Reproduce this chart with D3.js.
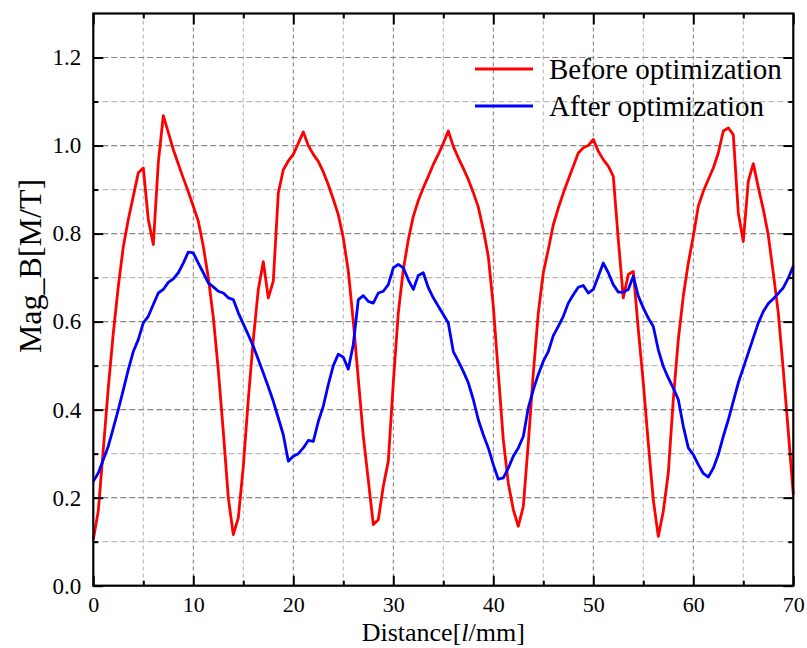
<!DOCTYPE html>
<html>
<head>
<script src="https://d3js.org/d3.v7.min.js"></script>
<style>
    body, html { margin: 0; padding: 0; background: #ffffff; }
    svg { font-family: "Liberation Serif", "Times New Roman", serif; }
    .axis line { stroke: #000; stroke-width: 2; }
    .axis path { display: none; }
</style>
</head>
<body>
<div id="chart"></div>
<script>
// Mag_B along the distance, before / after optimization
const before = [
    [0,0.105],[0.5,0.17],[1,0.31],[1.5,0.45],[2,0.574],[2.5,0.68],[3,0.77],[3.5,0.832],[4,0.885],[4.5,0.938],
    [5,0.949],[5.5,0.832],[6,0.775],[6.5,0.961],[7,1.068],[7.5,1.03],[8,0.991],[8.5,0.958],[9,0.926],[9.5,0.895],
    [10,0.862],[10.5,0.828],[11,0.771],[11.5,0.70],[12,0.61],[12.5,0.49],[13,0.35],[13.5,0.2],[14,0.116],[14.5,0.154],
    [15,0.271],[15.5,0.423],[16,0.559],[16.5,0.673],[17,0.736],[17.5,0.654],[18,0.692],[18.5,0.892],[19,0.945],[19.5,0.965],
    [20,0.98],[20.5,1.005],[21,1.031],[21.5,1.0],[22,0.98],[22.5,0.964],[23,0.94],[23.5,0.911],[24,0.878],[24.5,0.843],
    [25,0.79],[25.5,0.715],[26,0.60],[26.5,0.47],[27,0.34],[27.5,0.24],[28,0.139],[28.5,0.15],[29,0.226],[29.5,0.283],
    [30,0.461],[30.5,0.62],[31,0.718],[31.5,0.786],[32,0.839],[32.5,0.875],[33,0.904],[33.5,0.93],[34,0.957],[34.5,0.98],
    [35,1.005],[35.5,1.033],[36,0.998],[36.5,0.972],[37,0.948],[37.5,0.923],[38,0.893],[38.5,0.86],[39,0.809],[39.5,0.748],
    [40,0.635],[40.5,0.483],[41,0.332],[41.5,0.233],[42,0.173],[42.5,0.135],[43,0.18],[43.5,0.324],[44,0.483],[44.5,0.62],
    [45,0.711],[45.5,0.764],[46,0.82],[46.5,0.858],[47,0.892],[47.5,0.923],[48,0.953],[48.5,0.983],[49,0.995],[49.5,1.0],
    [50,1.014],[50.5,0.987],[51,0.968],[51.5,0.953],[52,0.93],[52.5,0.786],[53,0.654],[53.5,0.707],[54,0.714],[54.5,0.582],
    [55,0.461],[55.5,0.324],[56,0.195],[56.5,0.112],[57,0.169],[57.5,0.256],[58,0.423],[58.5,0.559],[59,0.658],[59.5,0.733],
    [60,0.794],[60.5,0.862],[61,0.896],[61.5,0.923],[62,0.949],[62.5,0.983],[63,1.033],[63.5,1.04],[64,1.025],[64.5,0.847],
    [65,0.782],[65.5,0.919],[66,0.959],[66.5,0.905],[67,0.855],[67.5,0.796],[68,0.71],[68.5,0.62],[69,0.49],[69.5,0.35],
    [70,0.207]
];

const after = [
    [0,0.237],[0.5,0.256],[1,0.286],[1.5,0.317],[2,0.358],[2.5,0.4],[3,0.445],[3.5,0.491],[4,0.532],[4.5,0.559],
    [5,0.597],[5.5,0.612],[6,0.639],[6.5,0.665],[7,0.673],[7.5,0.689],[8,0.697],[8.5,0.711],[9,0.733],[9.5,0.758],
    [10,0.756],[10.5,0.733],[11,0.711],[11.5,0.688],[12,0.679],[12.5,0.669],[13,0.665],[13.5,0.654],[14,0.65],[14.5,0.62],
    [15,0.595],[15.5,0.57],[16,0.544],[16.5,0.514],[17,0.483],[17.5,0.452],[18,0.419],[18.5,0.381],[19,0.343],[19.5,0.283],
    [20,0.294],[20.5,0.3],[21,0.313],[21.5,0.33],[22,0.328],[22.5,0.373],[23,0.408],[23.5,0.457],[24,0.5],[24.5,0.526],
    [25,0.519],[25.5,0.492],[26,0.548],[26.5,0.65],[27,0.659],[27.5,0.646],[28,0.642],[28.5,0.665],[29,0.669],[29.5,0.684],
    [30,0.722],[30.5,0.73],[31,0.722],[31.5,0.695],[32,0.673],[32.5,0.705],[33,0.711],[33.5,0.677],[34,0.654],[34.5,0.635],
    [35,0.616],[35.5,0.597],[36,0.532],[36.5,0.51],[37,0.487],[37.5,0.461],[38,0.423],[38.5,0.377],[39,0.343],[39.5,0.313],
    [40,0.275],[40.5,0.242],[41,0.245],[41.5,0.267],[42,0.294],[42.5,0.313],[43,0.339],[43.5,0.404],[44,0.445],[44.5,0.48],
    [45,0.51],[45.5,0.532],[46,0.568],[46.5,0.589],[47,0.612],[47.5,0.642],[48,0.661],[48.5,0.678],[49,0.682],[49.5,0.665],
    [50,0.673],[50.5,0.703],[51,0.733],[51.5,0.711],[52,0.684],[52.5,0.667],[53,0.667],[53.5,0.673],[54,0.703],[54.5,0.658],
    [55,0.631],[55.5,0.608],[56,0.589],[56.5,0.536],[57,0.498],[57.5,0.472],[58,0.449],[58.5,0.423],[59,0.362],[59.5,0.313],
    [60,0.298],[60.5,0.275],[61,0.255],[61.5,0.247],[62,0.267],[62.5,0.298],[63,0.339],[63.5,0.377],[64,0.419],[64.5,0.461],
    [65,0.495],[65.5,0.529],[66,0.563],[66.5,0.597],[67,0.623],[67.5,0.641],[68,0.652],[68.5,0.664],[69,0.677],[69.5,0.699],
    [70,0.726]
];

const xMajor = [0, 10, 20, 30, 40, 50, 60, 70];
const xMinor = [5, 15, 25, 35, 45, 55, 65];
const yMajor = [0.0, 0.2, 0.4, 0.6, 0.8, 1.0, 1.2];
const yMinor = [0.1, 0.3, 0.5, 0.7, 0.9, 1.1];

const seriesNames = ["Before optimization", "After optimization"];
const seriesColors = ["#ff0000", "#0000ff"];

const serif = '"Liberation Serif", "Times New Roman", serif';
const width = 807, height = 648;
const margin = {top: 13.5, left: 93.3, right: 13.7, bottom: 62.3};

const svg = d3.select("#chart").append("svg")
    .attr("width", width)
    .attr("height", height)
    .attr("font-family", serif);

const xScale = d3.scaleLinear()
    .domain([0, 70])
    .range([margin.left, width - margin.right]);

const yScale = d3.scaleLinear()
    .domain([0, 1.3])
    .range([height - margin.bottom, margin.top]);

// grid
const grid = svg.append("g");
grid.selectAll(".vgrid")
    .data(xMajor.concat(xMinor).filter(d => d > 0 && d < 70))
    .enter().append("line")
    .attr("x1", d => xScale(d)).attr("x2", d => xScale(d))
    .attr("y1", yScale(1.3)).attr("y2", yScale(0))
    .attr("stroke", d => d % 10 === 0 ? "#777" : "#b0b0b0")
    .attr("stroke-width", 1)
    .attr("stroke-dasharray", "4 3");

grid.selectAll(".hgrid")
    .data(yMajor.concat(yMinor).filter(d => d > 0))
    .enter().append("line")
    .attr("x1", xScale(0)).attr("x2", xScale(70))
    .attr("y1", d => yScale(d)).attr("y2", d => yScale(d))
    .attr("stroke", d => Math.round(d * 10) % 2 === 0 ? "#888" : "#bbb")
    .attr("stroke-width", 1.2)
    .attr("stroke-dasharray", "6 3");

// lines
const line = d3.line()
    .x(d => xScale(d[0]))
    .y(d => yScale(d[1]));

[before, after].forEach((data, i) => {
    svg.append("path")
        .datum(data)
        .attr("fill", "none")
        .attr("stroke", seriesColors[i])
        .attr("stroke-width", 2.8)
        .attr("stroke-linejoin", "round")
        .attr("d", line);
});

// axes, ticks pointing inward on all four sides
const fmtY = d3.format(".1f");

function addAxis(axis, tx, ty, size) {
    const g = svg.append("g").attr("class", "axis")
        .attr("transform", `translate(${tx},${ty})`)
        .call(axis);
    g.attr("font-family", serif).attr("font-size", size);
    g.selectAll("text")
        .style("font-family", serif)
        .style("font-size", size + "px")
        .attr("fill", "#000");
    return g;
}

addAxis(d3.axisBottom(xScale).tickValues(xMajor).tickSize(-10).tickPadding(11), 0, yScale(0), 22);
addAxis(d3.axisBottom(xScale).tickValues(xMinor).tickSize(-5).tickFormat(""), 0, yScale(0), 22);
addAxis(d3.axisTop(xScale).tickValues(xMajor).tickSize(-11).tickFormat(""), 0, yScale(1.3), 22);
addAxis(d3.axisTop(xScale).tickValues(xMinor).tickSize(-5).tickFormat(""), 0, yScale(1.3), 22);

addAxis(d3.axisLeft(yScale).tickValues(yMajor).tickSize(-10).tickPadding(12).tickFormat(fmtY), xScale(0), 0, 23);
addAxis(d3.axisLeft(yScale).tickValues(yMinor).tickSize(-5).tickFormat(""), xScale(0), 0, 23);
addAxis(d3.axisRight(yScale).tickValues(yMajor).tickSize(-10).tickFormat(""), xScale(70), 0, 23);
addAxis(d3.axisRight(yScale).tickValues(yMinor).tickSize(-5).tickFormat(""), xScale(70), 0, 23);

// frame
svg.append("rect")
    .attr("x", xScale(0))
    .attr("y", yScale(1.3))
    .attr("width", xScale(70) - xScale(0))
    .attr("height", yScale(0) - yScale(1.3))
    .attr("fill", "none")
    .attr("stroke", "#000")
    .attr("stroke-width", 2.2);

// axis titles
const xTitle = svg.append("text")
    .attr("x", (xScale(0) + xScale(70)) / 2)
    .attr("y", 641)
    .attr("text-anchor", "middle")
    .attr("font-size", 26);
xTitle.append("tspan").text("Distance[");
xTitle.append("tspan").attr("font-style", "italic").text("l");
xTitle.append("tspan").text("/mm]");

svg.append("text")
    .attr("transform", "translate(41,266) rotate(-90)")
    .attr("text-anchor", "middle")
    .attr("font-size", 32)
    .text("Mag_B[M/T]");

// legend
const legend = svg.append("g");
seriesNames.forEach((name, i) => {
    const ly = 69 + i * 37;
    legend.append("line")
        .attr("x1", 475).attr("x2", 533)
        .attr("y1", ly).attr("y2", ly)
        .attr("stroke", seriesColors[i])
        .attr("stroke-width", 2.8);
    legend.append("text")
        .attr("x", 549)
        .attr("y", ly + 10)
        .attr("font-size", 29)
        .text(name);
});
</script>
</body>
</html>
